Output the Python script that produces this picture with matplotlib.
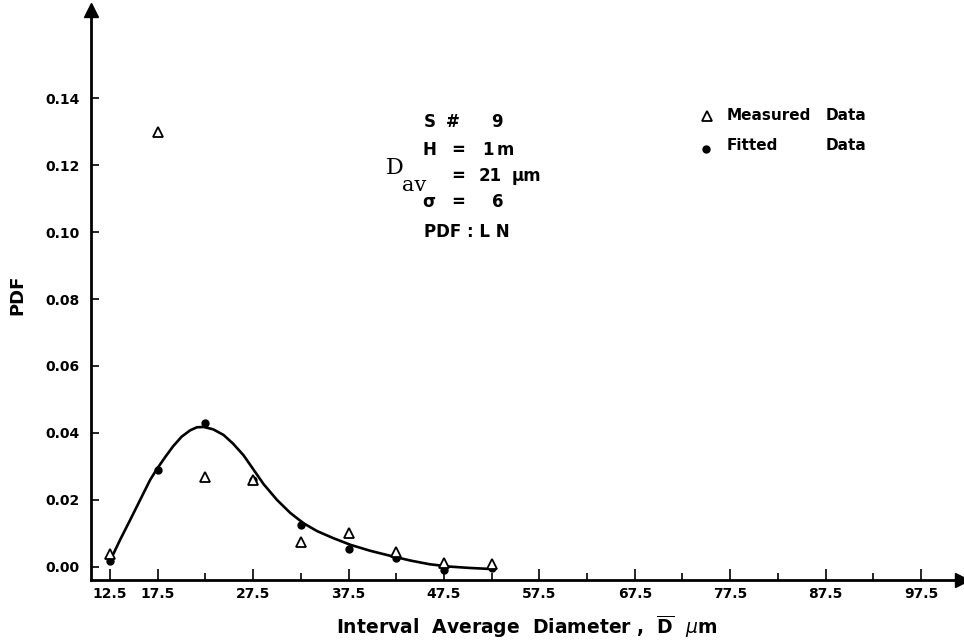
import matplotlib
matplotlib.use("Agg")
import matplotlib.pyplot as plt
from matplotlib.ticker import FixedLocator

# interval midpoints
diam = [12.5, 17.5, 22.5, 27.5, 32.5, 37.5, 42.5, 47.5, 52.5]
measured = [0.004, 0.130, 0.027, 0.026, 0.0073, 0.0101, 0.0046, 0.0011, 0.0009]
fitted = [0.0018, 0.029, 0.043, 0.026, 0.0125, 0.0054, 0.0026, -0.0008, -0.0003]

# fitted curve
curve_x = [12.85, 13.55, 14.6, 15.3, 16.0, 16.7, 17.4, 18.3, 19.1, 20.0, 20.9,
           21.6, 22.3, 23.3, 24.4, 25.4, 26.5, 27.5, 28.6, 30.0, 31.4, 32.8,
           34.2, 35.9, 37.7, 39.8, 41.9, 44.0, 46.0, 48.1, 50.2, 52.3]
curve_y = [0.0039, 0.0081, 0.014, 0.018, 0.022, 0.026, 0.0292, 0.0329, 0.0360,
           0.0389, 0.0408, 0.0417, 0.0418, 0.0411, 0.0394, 0.0368, 0.0333,
           0.0292, 0.0247, 0.0200, 0.0161, 0.0130, 0.0107, 0.0086, 0.0066,
           0.0048, 0.0033, 0.0019, 0.0008, 0.0001, -0.0003, -0.0006]

xticks_major = [12.5, 17.5, 27.5, 37.5, 47.5, 57.5, 67.5, 77.5, 87.5, 97.5]
xticks_minor = [22.5, 32.5, 42.5, 52.5, 62.5, 72.5, 82.5, 92.5]
yticks = [0.00, 0.02, 0.04, 0.06, 0.08, 0.10, 0.12, 0.14]

W, H = 964, 642
fig = plt.figure(figsize=(W / 100, H / 100), dpi=100)
ax = fig.add_axes([91 / W, (H - 580) / H, (962 - 91) / W, (580 - 10) / H])

ax.plot(curve_x, curve_y, color="black", lw=1.9, zorder=2,
        solid_joinstyle="round", solid_capstyle="round")
ax.plot(diam, fitted, "o", color="black", ms=5, zorder=3, clip_on=False)
ax.plot(diam, measured, "^", mfc="white", mec="black", mew=1.3, ms=7.5,
        zorder=4, clip_on=False)

ax.set_xlim(10.5, 101.8)
ax.set_ylim(-0.0039, 0.1663)

ax.spines["top"].set_visible(False)
ax.spines["right"].set_visible(False)
for s in ("left", "bottom"):
    ax.spines[s].set_linewidth(2.0)

# arrow heads on the axes
ax.plot(1, 0, ">", color="black", ms=10, transform=ax.transAxes, clip_on=False)
ax.plot(0, 1, "^", color="black", ms=10, transform=ax.transAxes, clip_on=False)

ax.xaxis.set_major_locator(FixedLocator(xticks_major))
ax.xaxis.set_minor_locator(FixedLocator(xticks_minor))
ax.set_xticklabels([f"{v:.1f}" for v in xticks_major])
ax.set_yticks(yticks)
ax.set_yticklabels([f"{v:.2f}" for v in yticks])
ax.tick_params(axis="x", which="major", direction="in", length=8, width=1.2,
               labelsize=10, pad=5)
ax.tick_params(axis="x", which="minor", direction="in", length=5, width=1.2)
ax.tick_params(axis="y", direction="in", length=6, width=1.2, labelsize=10, pad=8)
for lab in ax.get_xticklabels() + ax.get_yticklabels():
    lab.set_fontweight("bold")

ax.set_xlabel(r"Interval  Average  Diameter ,  $\mathbf{\overline{D}}$  $\mathit{\mu}$m",
              fontsize=13.5, fontweight="bold", labelpad=9)
ax.set_ylabel("PDF", fontsize=13, fontweight="bold", labelpad=14)


def at(x, y, s, **extra):
    d = dict(transform=fig.transFigure, fontsize=12, fontweight="bold",
             va="center", ha="left")
    d.update(extra)
    fig.text(x / W, 1 - y / H, s, **d)


def mark(x, y, m, **extra):
    fig.lines.append(plt.Line2D([x / W], [1 - y / H], marker=m, ls="none",
                                color="black", transform=fig.transFigure, **extra))


# parameter block
at(424, 122, "S")
at(446, 122, "#")
at(491, 122, "9")
at(423, 150, "H")
at(451, 150, "=")
at(482, 150, "1")
at(497, 150, "m")
at(386, 168, "D", family="DejaVu Serif", fontweight="normal", fontsize=16)
at(402, 186, "av", family="DejaVu Serif", fontweight="normal", fontsize=15)
at(451, 176, "=")
at(479, 176, "21")
at(512, 176, "\u03bcm")
at(422, 202, "\u03c3")
at(451, 202, "=")
at(492, 202, "6")
at(424, 232, "PDF : L N")

# legend
mark(707, 116, "^", mfc="white", mec="black", mew=1.3, ms=7)
at(727, 116, "Measured", fontsize=11)
at(826, 116, "Data", fontsize=11)
mark(706, 149, "o", ms=5)
at(727, 145, "Fitted", fontsize=11)
at(826, 145, "Data", fontsize=11)

fig.savefig("out.png", dpi=100)
